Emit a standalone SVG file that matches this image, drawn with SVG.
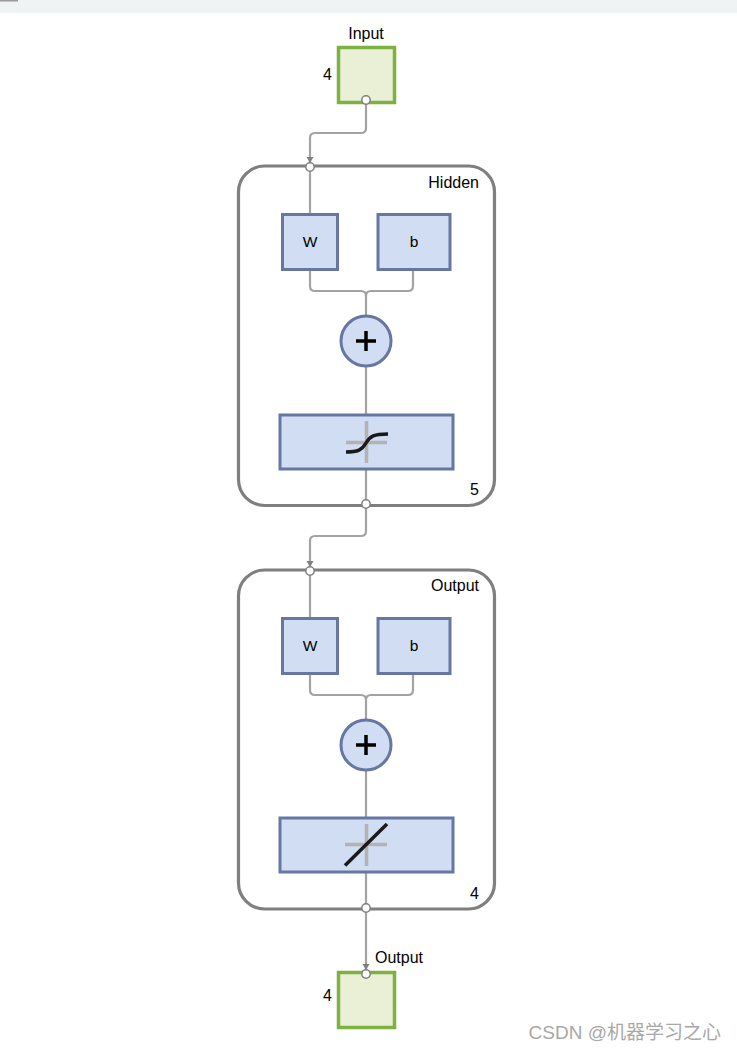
<svg xmlns="http://www.w3.org/2000/svg" width="737" height="1051" viewBox="0 0 737 1051">
<defs>
<style>
.lbl{font-family:"Liberation Sans",Arial,sans-serif;font-size:16px;fill:#000}
.wb{font-family:"Liberation Sans",Arial,sans-serif;font-size:15.5px;fill:#000;text-anchor:middle}
.io{fill:#eaf0d6;stroke:#7db140;stroke-width:3.5}
.layer{fill:none;stroke:#7f7f7f;stroke-width:3.2}
.blk{fill:#d0ddf2;stroke:#6777a4;stroke-width:3}
.con{fill:none;stroke:#a3a3a3;stroke-width:2.2}
.port{fill:#fff;stroke:#7f7f7f;stroke-width:1.5}
.ax{stroke:#b3b3b3;stroke-width:3.5;fill:none}
.fn{stroke:#1a1a1a;stroke-width:3.5;fill:none}
</style>
<marker id="arr" markerUnits="userSpaceOnUse" markerWidth="8" markerHeight="8" refX="4" refY="7" orient="0" viewBox="0 0 8 8">
<path d="M0.5,1 L7.5,1 L4,7 Z" fill="#7f7f7f"/>
</marker>
</defs>
<rect x="0" y="0" width="737" height="13" fill="#eff3f3"/>
<rect x="0" y="0" width="18" height="1.5" fill="#999"/>

<g id="connectors">
<path class="con" d="M366,104 V128 Q366,133 361,133 H315 Q310,133 310,138 V163" marker-end="url(#arr)"/>
<path class="con" d="M310,171 V214"/>
<path class="con" d="M310,271 V286 Q310,291 315,291 H361 Q366,291 366,296 V316"/>
<path class="con" d="M413,271 V286 Q413,291 408,291 H371 Q366,291 366,296"/>
<path class="con" d="M366,367 V415"/>
<path class="con" d="M366,469 V500"/>
<path class="con" d="M366,508 V531 Q366,536 361,536 H315 Q310,536 310,541 V567" marker-end="url(#arr)"/>
<path class="con" d="M310,575 V618"/>
<path class="con" d="M310,675 V690 Q310,695 315,695 H361 Q366,695 366,700 V720"/>
<path class="con" d="M413,675 V690 Q413,695 408,695 H371 Q366,695 366,700"/>
<path class="con" d="M366,771 V819"/>
<path class="con" d="M366,873 V904"/>
<path class="con" d="M366,912 V970" marker-end="url(#arr)"/>
</g>

<g id="input">
<rect class="io" x="338.5" y="47.5" width="56" height="55"/>
<text class="lbl" x="366" y="39" text-anchor="middle">Input</text>
<text class="lbl" x="332" y="80" text-anchor="end">4</text>
<circle class="port" cx="366" cy="100" r="4.2"/>
</g>

<g id="hidden">
<rect class="layer" x="238.5" y="166" width="256" height="339.5" rx="26"/>
<text class="lbl" x="479" y="188" text-anchor="end">Hidden</text>
<text class="lbl" x="479" y="495" text-anchor="end">5</text>
<circle class="port" cx="310" cy="167" r="4.2"/>
<circle class="port" cx="366" cy="504" r="4.2"/>
<g id="hidden-W"><rect class="blk" x="282.5" y="214.5" width="55" height="55"/><text class="wb" x="310" y="247">W</text></g>
<g id="hidden-b"><rect class="blk" x="378" y="214.5" width="72" height="55"/><text class="wb" x="414" y="247">b</text></g>
<g id="hidden-sum"><circle class="blk" cx="366" cy="341" r="25"/><path d="M356,341 H376 M366,331 V351" stroke="#000" stroke-width="3.5"/></g>
<g id="hidden-tf"><rect class="blk" x="280" y="415" width="173" height="54"/>
<path class="ax" d="M346,442.5 H387 M366.5,421 V463"/>
<path class="fn" d="M346,452 C358,452 362,450 366,443 C370,436 374,434 388,434"/></g>
</g>

<g id="output-layer">
<rect class="layer" x="238.5" y="570" width="256" height="339" rx="26"/>
<text class="lbl" x="479" y="591" text-anchor="end">Output</text>
<text class="lbl" x="479" y="899" text-anchor="end">4</text>
<circle class="port" cx="310" cy="571" r="4.2"/>
<circle class="port" cx="366" cy="908" r="4.2"/>
<g id="output-W"><rect class="blk" x="282.5" y="618.5" width="55" height="55"/><text class="wb" x="310" y="651">W</text></g>
<g id="output-b"><rect class="blk" x="378" y="618.5" width="72" height="55"/><text class="wb" x="414" y="651">b</text></g>
<g id="output-sum"><circle class="blk" cx="366" cy="745" r="25"/><path d="M356,745 H376 M366,735 V755" stroke="#000" stroke-width="3.5"/></g>
<g id="output-tf"><rect class="blk" x="280" y="818" width="173" height="54"/>
<path class="ax" d="M345,844.5 H387 M366.5,824 V866"/>
<path class="fn" d="M345,865.5 L387,824"/></g>
</g>

<g id="output">
<rect class="io" x="338.5" y="972.5" width="56" height="55"/>
<text class="lbl" x="375" y="963">Output</text>
<text class="lbl" x="332" y="1001" text-anchor="end">4</text>
<circle class="port" cx="366" cy="974" r="4.2"/>
</g>

<text x="721" y="1039" text-anchor="end" style="font-family:'Liberation Sans','Noto Sans CJK SC',sans-serif;font-size:19px;fill:#a8a8a8">CSDN @机器学习之心</text>
</svg>
